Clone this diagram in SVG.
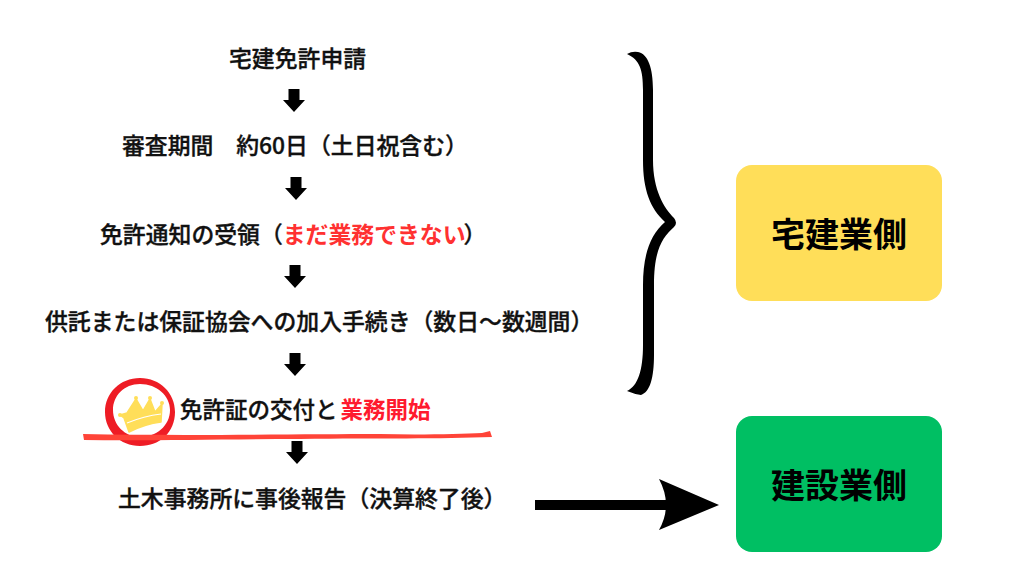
<svg xmlns="http://www.w3.org/2000/svg" width="1024" height="576" viewBox="0 0 1024 576">
<style>
.t{font-family:"Noto Sans CJK JP","Noto Sans",sans-serif;font-size:22.85px;font-weight:500;fill:#111;stroke:#111;stroke-width:.35}
.r{fill:#ff3131;stroke:#ff3131;font-weight:700;stroke-width:0}
.r2{fill:#ff1a2e;stroke:#ff1a2e;font-weight:700;stroke-width:0}
.b{font-family:"Noto Sans CJK JP","Noto Sans",sans-serif;font-size:34px;font-weight:700;fill:#000;text-anchor:middle}
</style>
<defs><path id="da" d="M-5.500 -12H5.500V-1H11L0 11L-11 -1H-5.500Z" fill="#000"/></defs>
<rect width="1024" height="576" fill="#fff"/>
<g id="connectors">
<use href="#da" x="294" y="101"/>
<use href="#da" x="296" y="189"/>
<use href="#da" x="295" y="277"/>
<use href="#da" x="295" y="365"/>
<use href="#da" x="297" y="453"/>
<g id="arrow-main"><rect x="535" y="500" width="135" height="10"/><path d="M659 479L719 505L659 530Q673 505 659 479Z"/></g>
<path id="brace" d="M627 54Q632 51 638 52C648 54 653 68 653 90V160C653 190 664 208 674 218Q678 223 674 227C662 238 654 250 654 285V355C654 378 650 392 641 395Q634 394 627 391C638 386 643 370 643 345V285C643 255 650 235 665 222C650 208 643 190 643 160V90C643 70 640 60 627 54Z" fill="#000"/>
</g>
<g id="n1"><text class="t" x="229" y="67">宅建免許申請</text></g>
<g id="n2"><text class="t" x="122" y="154">審査期間　約60日（土日祝含む）</text></g>
<g id="n3"><text class="t" x="100" y="242.500">免許通知の受領（<tspan class="r">まだ業務できない</tspan><tspan dx="-2">）</tspan></text></g>
<g id="n4"><text class="t" x="45" y="330">供託または保証協会への加入手続き（数日〜数週間）</text></g>
<g id="n5">
<path fill-rule="evenodd" d="M140 378C160 378 175 393 175 412C175 432 160 446 140 446C120 446 105 431 105 412C105 393 120 378 140 378ZM140 384C124 384 113 396 113 410C113 425 125 437 140 437C156 437 170 426 170 410C170 396 157 384 140 384Z" fill="#ee1c25"/>
<path d="M124 385Q140 375 158 384L150 382Q136 381 124 385Z" fill="#ee1c25" stroke="#ee1c25"/>
<path d="M124 418L120 415L127 413L136 399L143 411L150 399L155 412L162 404L161 422Q145 424 129 432Z" fill="#ffde59" stroke="#ffde59" stroke-width="1.500" stroke-linejoin="round"/>
<circle cx="120" cy="415" r="2" fill="#ffde59"/><circle cx="136" cy="398" r="2" fill="#ffde59"/><circle cx="150" cy="398" r="2" fill="#ffde59"/><circle cx="162" cy="403" r="2" fill="#ffde59"/>
<path d="M127 423Q144 416 161 414" fill="none" stroke="#fff" stroke-width="1.200"/>
<path d="M83 434C180 436 300 434 380 434C420 435 460 434 482 433L490 431L492 437C440 439 380 438 300 439C220 439 150 441 84 440Z" fill="#ff4438"/>
<text class="t" x="180" y="418" style="font-size:22.500px">免許証の交付と<tspan class="r2" dx="3">業務開始</tspan></text>
</g>
<g id="n6"><text class="t" x="118" y="507">土木事務所に事後報告（決算終了後）</text></g>
<g id="takken"><rect x="736" y="165" width="206" height="136" rx="16" fill="#ffde59"/><text class="b" x="839" y="247">宅建業側</text></g>
<g id="kensetsu"><rect x="736" y="416" width="206" height="136" rx="16" fill="#00bf63"/><text class="b" x="839" y="498">建設業側</text></g>
</svg>
